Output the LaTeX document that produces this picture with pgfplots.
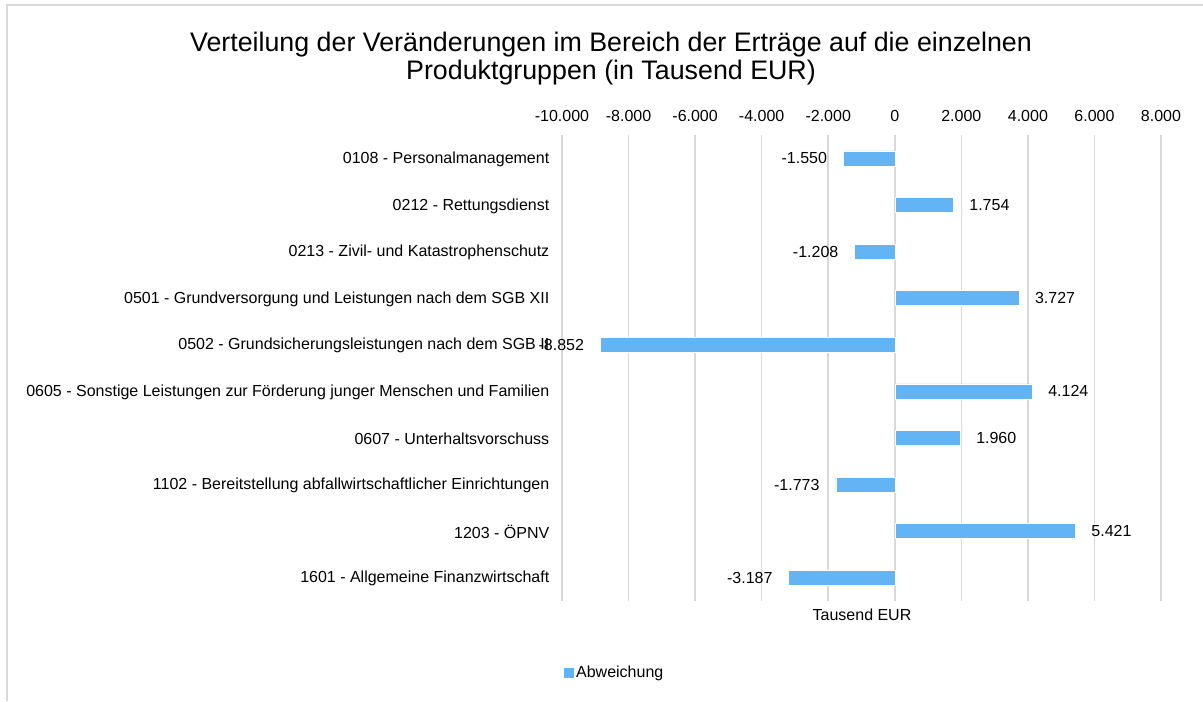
\documentclass[border=0pt]{standalone}
\usepackage{pgfplots}
\pgfplotsset{compat=1.18}
\usepackage{fontspec}
\setmainfont{Liberation Sans}
\definecolor{barblue}{RGB}{99,180,245}
\definecolor{gridgray}{RGB}{217,217,217}
\newlength\px \setlength\px{0.75pt}
\newcommand\lbl{\fontsize{12}{14}\selectfont}
\pgfplotstableread{
y val
0 -1550
1 1754
2 -1208
3 3727
4 -8852
5 4124
6 1960
7 -1773
8 5421
9 -3187
}\datatable
\begin{document}
\begin{tikzpicture}
\useasboundingbox (0,0) rectangle (1203\px,-701\px);
\draw[gridgray, line width=1.5\px] (7\px,-701\px) -- (7\px,-5\px) -- (1203\px,-5\px);
\node[align=center, font=\fontsize{20.1}{21}\selectfont] at (611\px,-59\px)
  {Verteilung der Veränderungen im Bereich der Erträge auf die einzelnen\\Produktgruppen (in Tausend EUR)};
\node[font=\lbl] at (862\px,-615\px) {Tausend EUR};
\begin{axis}[
  at={(562\px,-601\px)}, anchor=south west,
  scale only axis, width=599\px, height=466\px,
  xmin=-10000, xmax=8000,
  ymin=-0.5, ymax=9.5, y dir=reverse,
  xbar, bar width=15\px,
  xtick={-10000,-8000,...,8000},
  xticklabel pos=upper,
  xmajorgrids, grid style={gridgray, line width=1.5\px},
  axis line style={draw=none}, major tick length=0pt,
  tick label style={font=\lbl},
  /pgf/number format/.cd, use comma, 1000 sep={.}, assume math mode=true, fixed,
  /pgfplots/.cd,
  scaled x ticks=false,
  xticklabel style={yshift=9\px},
  ytick={0,...,9},
  yticklabels={
    0108 - Personalmanagement,
    0212 - Rettungsdienst,
    0213 - Zivil- und Katastrophenschutz,
    0501 - Grundversorgung und Leistungen nach dem SGB XII,
    0502 - Grundsicherungsleistungen nach dem SGB II,
    0605 - Sonstige Leistungen zur Förderung junger Menschen und Familien,
    0607 - Unterhaltsvorschuss,
    1102 - Bereitstellung abfallwirtschaftlicher Einrichtungen,
    1203 - ÖPNV,
    1601 - Allgemeine Finanzwirtschaft},
  yticklabel style={xshift=-8\px, yshift=-1\px},
  legend style={at={(0.0885,-0.1545)}, anchor=center, draw=none, fill=none, font=\lbl, inner sep=0pt},
  legend image code/.code={\fill[barblue] (0pt,-4\px) rectangle (9\px,5\px);},
]
\addplot[fill=barblue, draw=white, line width=0.5\px,
  point meta=x,
  visualization depends on={x \as \rawx},
  nodes near coords={\pgfmathprintnumber{\pgfplotspointmeta}},
  every node near coord/.append style={font=\lbl, text=black,
     anchor={\ifdim\rawx pt<0pt east\else west\fi}, inner xsep=16\px},
] table[x=val, y=y] {\datatable};
\addlegendentry{Abweichung}
\end{axis}
\end{tikzpicture}
\end{document}
